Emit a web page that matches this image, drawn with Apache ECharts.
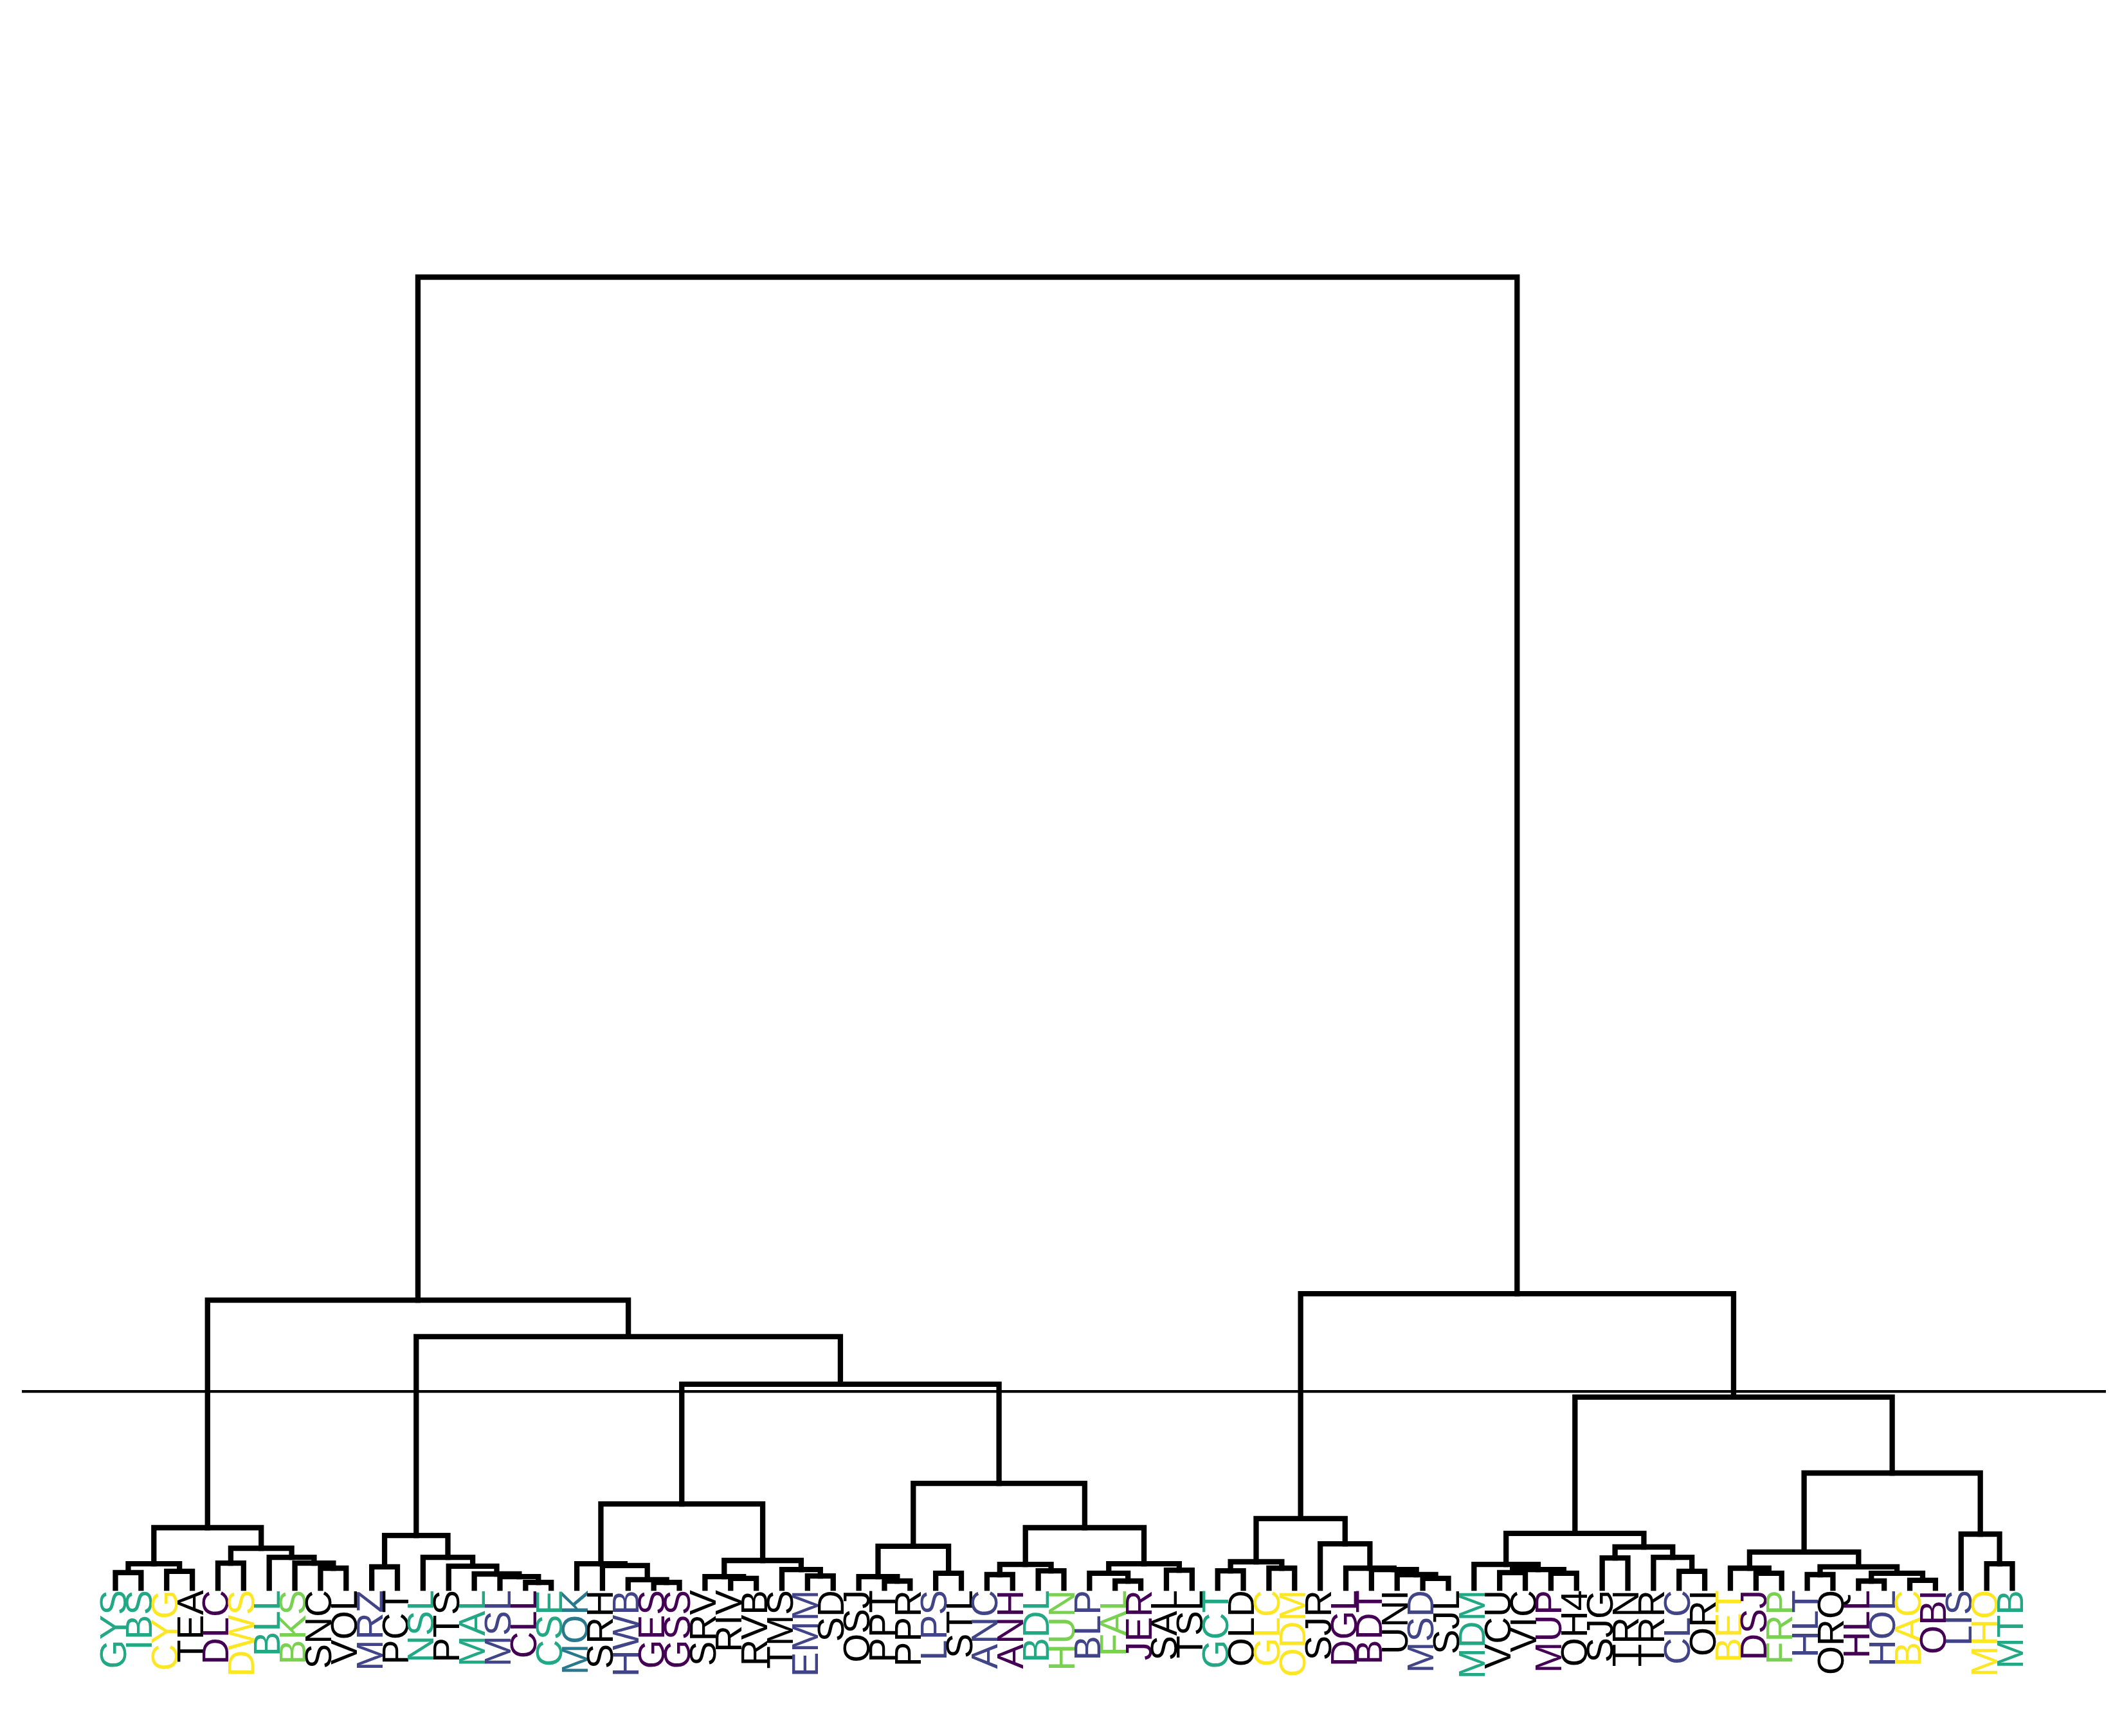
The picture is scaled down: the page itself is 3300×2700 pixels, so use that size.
<!DOCTYPE html>
<html><head><meta charset="utf-8">
<script src="https://cdn.jsdelivr.net/npm/echarts@6/dist/echarts.min.js"></script>
<style>html,body{margin:0;padding:0;background:#fff}#c{width:3300px;height:2700px}</style>
</head><body><div id="c"></div>
<script>
const leafLabels = ['GYS','IBS','CYG','TEA','DLC','DWS','BLL','BKS','SNC','VOL',
  'MRZ','PCT','NSL','PTS','MAL','MSL','CLL','CSE','MOK','SRH','HWB','GES','GSS',
  'SRV','RIV','RVB','TMS','EMM','SD','OSJ','PPT','PPR','LPS','STL','ANC','ANH',
  'BDL','HUN','BLP','FAL','JER','SAL','TSL','GCT','OLD','GLC','ODM','SJR','DGL',
  'BDT','UNI','MSD','SJL','MDM','VCU','VIC','MUP','OH4','SJG','TRN','TRR','CLC',
  'ORI','BET','DSJ','FRP','HLT','ORQ','HLL','HOL','BAC','OBI','LIS','MHO','MTB'];
const leafColors = ['#22a884','#22a884','#fde725','#000000','#440154','#fde725','#22a884','#7ad151','#000000','#000000',
  '#414487','#000000','#22a884','#000000','#22a884','#414487','#440154','#22a884','#2a788e','#000000','#414487','#440154','#440154',
  '#000000','#000000','#000000','#000000','#414487','#000000','#000000','#000000','#000000','#414487','#000000','#414487','#440154',
  '#22a884','#7ad151','#414487','#7ad151','#440154','#000000','#000000','#22a884','#000000','#fde725','#fde725','#000000','#440154',
  '#440154','#000000','#414487','#000000','#22a884','#000000','#000000','#440154','#000000','#000000','#000000','#000000','#414487',
  '#000000','#fde725','#440154','#7ad151','#414487','#000000','#440154','#414487','#fde725','#440154','#414487','#fde725','#22a884'];
// each merge joins leaves [first .. split-1] with [split .. last]
const mergeRanges = [
  [0,1,1],[2,3,3],[0,2,3],[4,5,5],[8,9,9],[7,8,9],[6,7,9],[4,6,9],[0,4,9],
  [10,11,11],[16,17,17],[15,16,17],[14,15,17],[13,14,17],[12,13,17],[10,12,17],
  [21,22,22],[20,21,22],[19,20,22],[18,19,22],[24,25,25],[23,24,25],[27,28,28],[26,27,28],[23,26,28],[18,23,28],
  [30,31,31],[29,30,31],[32,33,33],[29,32,33],[34,35,35],[36,37,37],[34,36,37],
  [39,40,40],[38,39,40],[41,42,42],[38,41,42],[34,38,42],[29,34,42],[18,29,42],[10,18,42],[0,10,42],
  [43,44,44],[45,46,46],[43,45,46],[51,52,52],[50,51,52],[49,50,52],[48,49,52],[47,48,52],[43,47,52],
  [54,55,55],[56,57,57],[54,56,57],[53,54,57],[58,59,59],[61,62,62],[60,61,62],[58,60,62],[53,58,62],
  [64,65,65],[63,64,65],[66,67,67],[68,69,69],[70,71,71],[68,70,71],[66,68,71],[63,66,71],
  [73,74,74],[72,73,74],[63,72,74],[53,63,74],[43,53,74],[0,43,74]];
const mergeHeights = [
  1.18,1.28,1.86,1.91,1.52,1.91,2.35,3.04,4.61,
  1.62,0.44,0.88,1.08,1.67,2.35,4.02,
  0.44,0.64,1.72,1.86,0.74,0.88,0.93,1.42,2.11,6.42,
  0.54,0.88,1.13,3.19,1.03,1.32,1.81,
  0.54,1.13,1.37,1.86,4.61,7.99,15.55,19.18,21.97,
  1.32,1.52,2.01,0.74,1.03,1.42,1.52,3.38,5.30,
  1.18,1.13,1.42,1.81,2.30,1.28,2.35,3.14,4.17,
  1.13,1.52,1.03,0.54,0.59,1.13,1.62,2.75,
  1.86,4.12,8.78,14.57,22.46,100];
const threshold = 15;

function findMerge(a,b){ return mergeRanges.findIndex(r=>r[0]===a && r[2]===b); }
function nodeX(a,b){
  if(a===b) return 5+10*a;
  const m = mergeRanges[findMerge(a,b)];
  return (nodeX(m[0],m[1]-1)+nodeX(m[1],m[2]))/2;
}
function nodeH(a,b){ return a===b ? 0 : mergeHeights[findMerge(a,b)]; }

const LW = 8.3;
const series = mergeRanges.map((m,i)=>{
  const xl = nodeX(m[0],m[1]-1), hl = nodeH(m[0],m[1]-1);
  const xr = nodeX(m[1],m[2]), hr = nodeH(m[1],m[2]);
  const h = mergeHeights[i];
  return {type:'line', xAxisIndex:0, yAxisIndex:0, symbol:'none', silent:true, clip:false, animation:false,
    data:[[xl,hl],[xl,h],[xr,h],[xr,hr]],
    lineStyle:{color:'#000', width:LW, cap:'square', join:'miter'}};
});
series.push({type:'line', xAxisIndex:0, yAxisIndex:0, symbol:'none', silent:true, clip:false, animation:false,
  data:[[-31.5,threshold],[781.5,threshold]], lineStyle:{color:'#000', width:4.2, cap:'butt'}});
series.push({type:'line', xAxisIndex:1, yAxisIndex:1, data:[], symbol:'none', silent:true});

const chart = echarts.init(document.getElementById('c'), null, {width:3300, height:2700});
chart.setOption({
  animation:false,
  backgroundColor:'#fff',
  grid:[{left:34, width:3241, top:431, bottom:230},
        {left:160.07, width:2989.9, top:431, bottom:230}],
  xAxis:[{type:'value', gridIndex:0, min:-31.5, max:781.5, show:false},
         {type:'category', gridIndex:1, boundaryGap:true,
          data: leafLabels.map((l,i)=>({value:l, textStyle:{color:leafColors[i]}})),
          axisLine:{show:false}, axisTick:{show:false}, splitLine:{show:false},
          axisLabel:{interval:0, rotate:90, margin:3, fontSize:58, fontFamily:'Liberation Sans'}}],
  yAxis:[{type:'value', gridIndex:0, min:0, max:100, show:false},
         {type:'value', gridIndex:1, min:0, max:100, show:false}],
  series: series
});
</script></body></html>
